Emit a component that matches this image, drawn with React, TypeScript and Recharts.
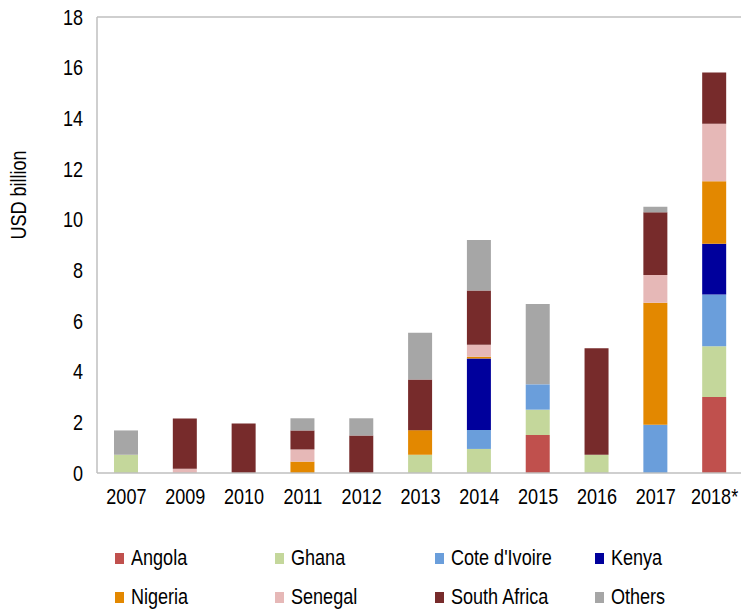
import { BarChart, Bar, XAxis, YAxis, ReferenceLine } from "recharts";

const years = ["2007", "2009", "2010", "2011", "2012", "2013", "2014", "2015", "2016", "2017", "2018*"];

const angola = [0, 0, 0, 0, 0, 0, 0, 1.5, 0, 0, 3.0];
const ghana = [0.72, 0, 0, 0, 0, 0.72, 0.95, 1.0, 0.72, 0, 2.0];
const coteDIvoire = [0, 0, 0, 0, 0, 0, 0.75, 1.0, 0, 1.9, 2.05];
const kenya = [0, 0, 0, 0, 0, 0, 2.82, 0, 0, 0, 2.0];
const nigeria = [0, 0, 0, 0.45, 0, 0.97, 0.07, 0, 0, 4.82, 2.47];
const senegal = [0, 0.17, 0, 0.48, 0, 0, 0.47, 0, 0, 1.1, 2.27];
const southAfrica = [0, 1.98, 1.95, 0.75, 1.48, 2.0, 2.14, 0, 4.2, 2.47, 2.02];
const others = [0.96, 0, 0, 0.48, 0.68, 1.85, 2.0, 3.17, 0, 0.22, 0];

const yTicks = [0, 2, 4, 6, 8, 10, 12, 14, 16, 18];

const series = [
  { key: "angola", name: "Angola", values: angola, color: "#C0504D" },
  { key: "ghana", name: "Ghana", values: ghana, color: "#C4D79B" },
  { key: "cote", name: "Cote d'Ivoire", values: coteDIvoire, color: "#6A9EDB" },
  { key: "kenya", name: "Kenya", values: kenya, color: "#00009C" },
  { key: "nigeria", name: "Nigeria", values: nigeria, color: "#E38800" },
  { key: "senegal", name: "Senegal", values: senegal, color: "#E6B8B7" },
  { key: "southAfrica", name: "South Africa", values: southAfrica, color: "#772B2B" },
  { key: "others", name: "Others", values: others, color: "#A6A6A6" },
];

const data = years.map((year, i) => {
  const row: Record<string, string | number> = { year };
  series.forEach((s) => {
    row[s.key] = s.values[i];
  });
  return row;
});

const FONT = "'Liberation Sans', Arial, sans-serif";
const FRAME = "#BFBFBF";
// the reference text is a narrow face; squeeze the regular one
const SQUEEZE = 0.82;

const XTick = ({ x, y, payload }: any) => (
  <g transform={`translate(${x},${y})`}>
    <text transform={`scale(${SQUEEZE},1)`} textAnchor="middle" dy="0.71em"
      fontSize={22} fontFamily={FONT} fill="#000">
      {payload.value}
    </text>
  </g>
);

const YTick = ({ x, y, payload }: any) => (
  <g transform={`translate(${x},${y})`}>
    <text transform={`scale(${SQUEEZE},1)`} textAnchor="end" dy="0.355em"
      fontSize={22} fontFamily={FONT} fill="#000">
      {payload.value}
    </text>
  </g>
);

export default function App() {
  return (
    <div style={{
      position: "absolute",
      left: 0,
      top: 0,
      width: 741,
      height: 609,
      overflow: "hidden",
      background: "#fff",
      fontFamily: FONT,
    }}>
      <BarChart
        width={760}
        height={609}
        data={data}
        margin={{ top: 17, right: 16, left: 0, bottom: 0 }}
        barSize={24}
      >
        <XAxis
          dataKey="year"
          height={136}
          tickLine={false}
          tickSize={0}
          tickMargin={15}
          axisLine={{ stroke: FRAME, strokeWidth: 1.5 }}
          tick={<XTick />}
          interval={0}
        />
        <YAxis
          width={97}
          domain={[0, 18]}
          ticks={yTicks}
          tickLine={false}
          tickSize={0}
          tickMargin={14}
          axisLine={{ stroke: FRAME, strokeWidth: 1.5 }}
          tick={<YTick />}
          label={{
            content: () => (
              <text
                x={0}
                y={0}
                transform={`translate(26, 195) rotate(-90) scale(${SQUEEZE},1)`}
                textAnchor="middle"
                fontSize={22}
                fontFamily={FONT}
                fill="#000"
              >
                USD billion
              </text>
            ),
          }}
        />
        <ReferenceLine y={18} stroke={FRAME} strokeWidth={1.5} />
        {series.map((s) => (
          <Bar
            key={s.key}
            dataKey={s.key}
            name={s.name}
            stackId="a"
            fill={s.color}
            isAnimationActive={false}
          />
        ))}
      </BarChart>

      {/* legend, two rows of four */}
      {[series.slice(0, 4), series.slice(4, 8)].map((row, r) => (
        <div key={r} style={{
          position: "absolute",
          left: 115,
          top: 558 + r * 39 - 14,
          height: 28,
          display: "flex",
          alignItems: "center",
        }}>
          {row.map((s) => (
            <div key={s.key} style={{ width: 160, display: "flex", alignItems: "center" }}>
              <div style={{ width: 9, height: 11, backgroundColor: s.color, marginRight: 7, flex: "none" }} />
              <span style={{
                fontSize: 22,
                color: "#000",
                lineHeight: 1,
                whiteSpace: "nowrap",
                display: "inline-block",
                transform: `scaleX(${SQUEEZE})`,
                transformOrigin: "left center",
              }}>
                {s.name}
              </span>
            </div>
          ))}
        </div>
      ))}
    </div>
  );
}
